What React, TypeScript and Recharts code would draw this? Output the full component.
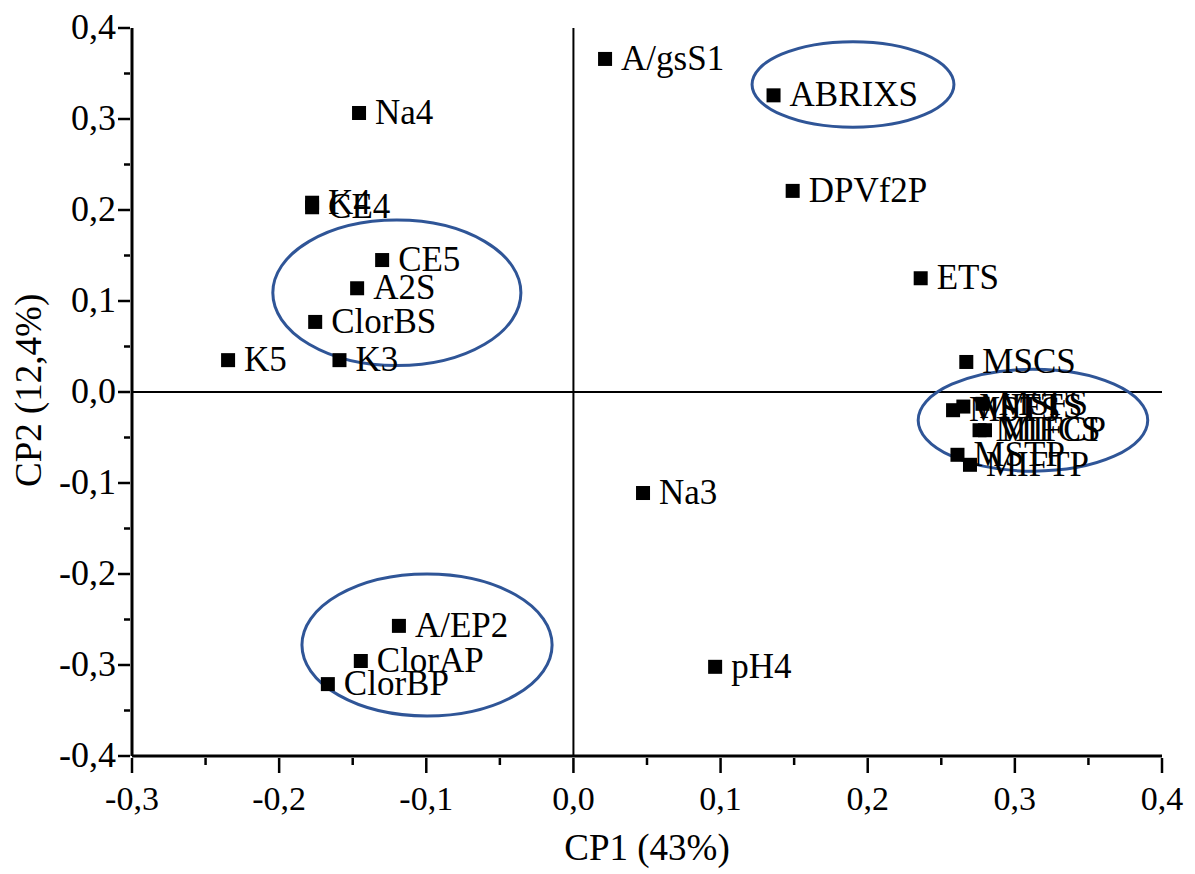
import React from 'react'
import { ReferenceLine, Scatter, ScatterChart, XAxis, YAxis } from 'recharts';

// loadings (CP1, CP2)
const labels = ['A/gsS1', 'ABRIXS', 'Na4', 'K4', 'CE4', 'DPVf2P', 'CE5', 'ETS', 'A2S', 'ClorBS', 'K5', 'K3', 'MSCS', 'MSTS', 'MIFTS', 'MSFS', 'MIFCS', 'MIFCP', 'MSTP', 'MIFTP', 'Na3', 'A/EP2', 'ClorAP', 'ClorBP', 'pH4'];
const cp1 = [0.0215, 0.136, -0.1457, -0.1776, -0.1776, 0.149, -0.130, 0.236, -0.147, -0.1755, -0.2347, -0.159, 0.267, 0.258, 0.265, 0.278, 0.276, 0.2797, 0.261, 0.2695, 0.0473, -0.1186, -0.1445, -0.1669, 0.0963];
const cp2 = [0.366, 0.326, 0.3066, 0.208, 0.203, 0.221, 0.145, 0.125, 0.114, 0.077, 0.035, 0.035, 0.033, -0.020, -0.016, -0.013, -0.042, -0.042, -0.069, -0.080, -0.111, -0.257, -0.2956, -0.321, -0.302];

// groups circled in the figure (centre and radii in axis units)
const groupX = [0.190, -0.120, 0.3123, -0.0995];
const groupY = [0.338, 0.109, -0.031, -0.278];
const groupRx = [0.0686, 0.0843, 0.078, 0.085];
const groupRy = [0.047, 0.080, 0.056, 0.078];

const xTicks = [-0.3, -0.25, -0.2, -0.15, -0.1, -0.05, 0, 0.05, 0.1, 0.15, 0.2, 0.25, 0.3, 0.35, 0.4];
const yTicks = [-0.4, -0.35, -0.3, -0.25, -0.2, -0.15, -0.1, -0.05, 0, 0.05, 0.1, 0.15, 0.2, 0.25, 0.3, 0.35, 0.4];

const points = labels.map((name, i) => ({ name, x: cp1[i], y: cp2[i] }));
const groups = groupX.map((x, i) => ({ x, y: groupY[i], rx: groupRx[i], ry: groupRy[i] }));

const W = 1195;
const H = 874;
const M = { top: 28, right: 33, bottom: 58, left: 52 };
const plotW = W - 132 - 33;
const plotH = H - 28 - 118;
const pxX = plotW / 0.7;
const pxY = plotH / 0.8;
const FONT = 'Liberation Serif';

const fmt = (v: number) => v.toFixed(1).replace('.', ',').replace('-0,0', '0,0');
const isMajor = (v: number) => Math.abs(v * 10 - Math.round(v * 10)) < 1e-6;

const XTick = ({ x, y, payload }: any) => {
  const major = isMajor(payload.value);
  return (
    <g>
      <line x1={x} x2={x} y1={y} y2={y + (major ? 15 : 7)} stroke="#000" strokeWidth={2.5} />
      {major && (
        <text x={x} y={y + 52} textAnchor="middle" fontSize={34} style={{ fontFamily: FONT }} fill="#000">
          {fmt(payload.value)}
        </text>
      )}
    </g>
  );
};

const YTick = ({ x, y, payload }: any) => {
  const major = isMajor(payload.value);
  return (
    <g>
      <line x1={x - (major ? 12 : 6)} x2={x} y1={y} y2={y} stroke="#000" strokeWidth={2.5} />
      {major && (
        <text x={x - 14} y={y + 11} textAnchor="end" fontSize={36} style={{ fontFamily: FONT }} fill="#000">
          {fmt(payload.value)}
        </text>
      )}
    </g>
  );
};

const PointShape = ({ cx, cy, payload }: any) => (
  <g>
    <rect x={cx - 7} y={cy - 7} width={14} height={14} fill="#000" />
    <text x={cx + 16} y={cy + 11} fontSize={35} style={{ fontFamily: FONT }} fill="#000">
      {payload.name}
    </text>
  </g>
);

const GroupShape = ({ cx, cy, payload }: any) => (
  <ellipse cx={cx} cy={cy} rx={payload.rx * pxX} ry={payload.ry * pxY} fill="none" stroke="#2f5597" strokeWidth={3} />
);

const App = () => {
  return (
    <div style={{ position: 'absolute', left: 0, top: 0, background: '#fff', fontFamily: FONT }}>
      <ScatterChart width={W} height={H} margin={M}>
        <XAxis
          type="number"
          dataKey="x"
          xAxisId="b"
          domain={[-0.3, 0.4]}
          ticks={xTicks}
          interval={0}
          tickSize={0}
          tickLine={false}
          tick={<XTick />}
          height={60}
          axisLine={{ stroke: '#000', strokeWidth: 3 }}
          label={{ value: 'CP1 (43%)', position: 'insideBottom', offset: -44, fontSize: 37, style: { fontFamily: FONT }, fill: '#000' }}
        />
        <XAxis type="number" dataKey="x" xAxisId="t" orientation="top" domain={[-0.3, 0.4]} tick={false} tickLine={false} height={0} axisLine={{ stroke: '#000', strokeWidth: 3 }} />
        <YAxis
          type="number"
          dataKey="y"
          yAxisId="l"
          domain={[-0.4, 0.4]}
          ticks={yTicks}
          interval={0}
          tickSize={0}
          tickLine={false}
          tick={<YTick />}
          width={80}
          axisLine={{ stroke: '#000', strokeWidth: 3 }}
          label={{ value: 'CP2 (12,4%)', angle: -90, position: 'insideLeft', offset: -24, dy: 95, fontSize: 37, style: { fontFamily: FONT }, fill: '#000' }}
        />
        <YAxis type="number" dataKey="y" yAxisId="r" orientation="right" domain={[-0.4, 0.4]} tick={false} tickLine={false} width={0} axisLine={{ stroke: '#000', strokeWidth: 3 }} />
        <ReferenceLine x={0} xAxisId="b" yAxisId="l" stroke="#000" strokeWidth={2} />
        <ReferenceLine y={0} xAxisId="b" yAxisId="l" stroke="#000" strokeWidth={2} />
        <Scatter data={groups} xAxisId="b" yAxisId="l" shape={<GroupShape />} isAnimationActive={false} />
        <Scatter data={points} xAxisId="b" yAxisId="l" shape={<PointShape />} isAnimationActive={false} />
      </ScatterChart>
    </div>
  );
};

export default App
